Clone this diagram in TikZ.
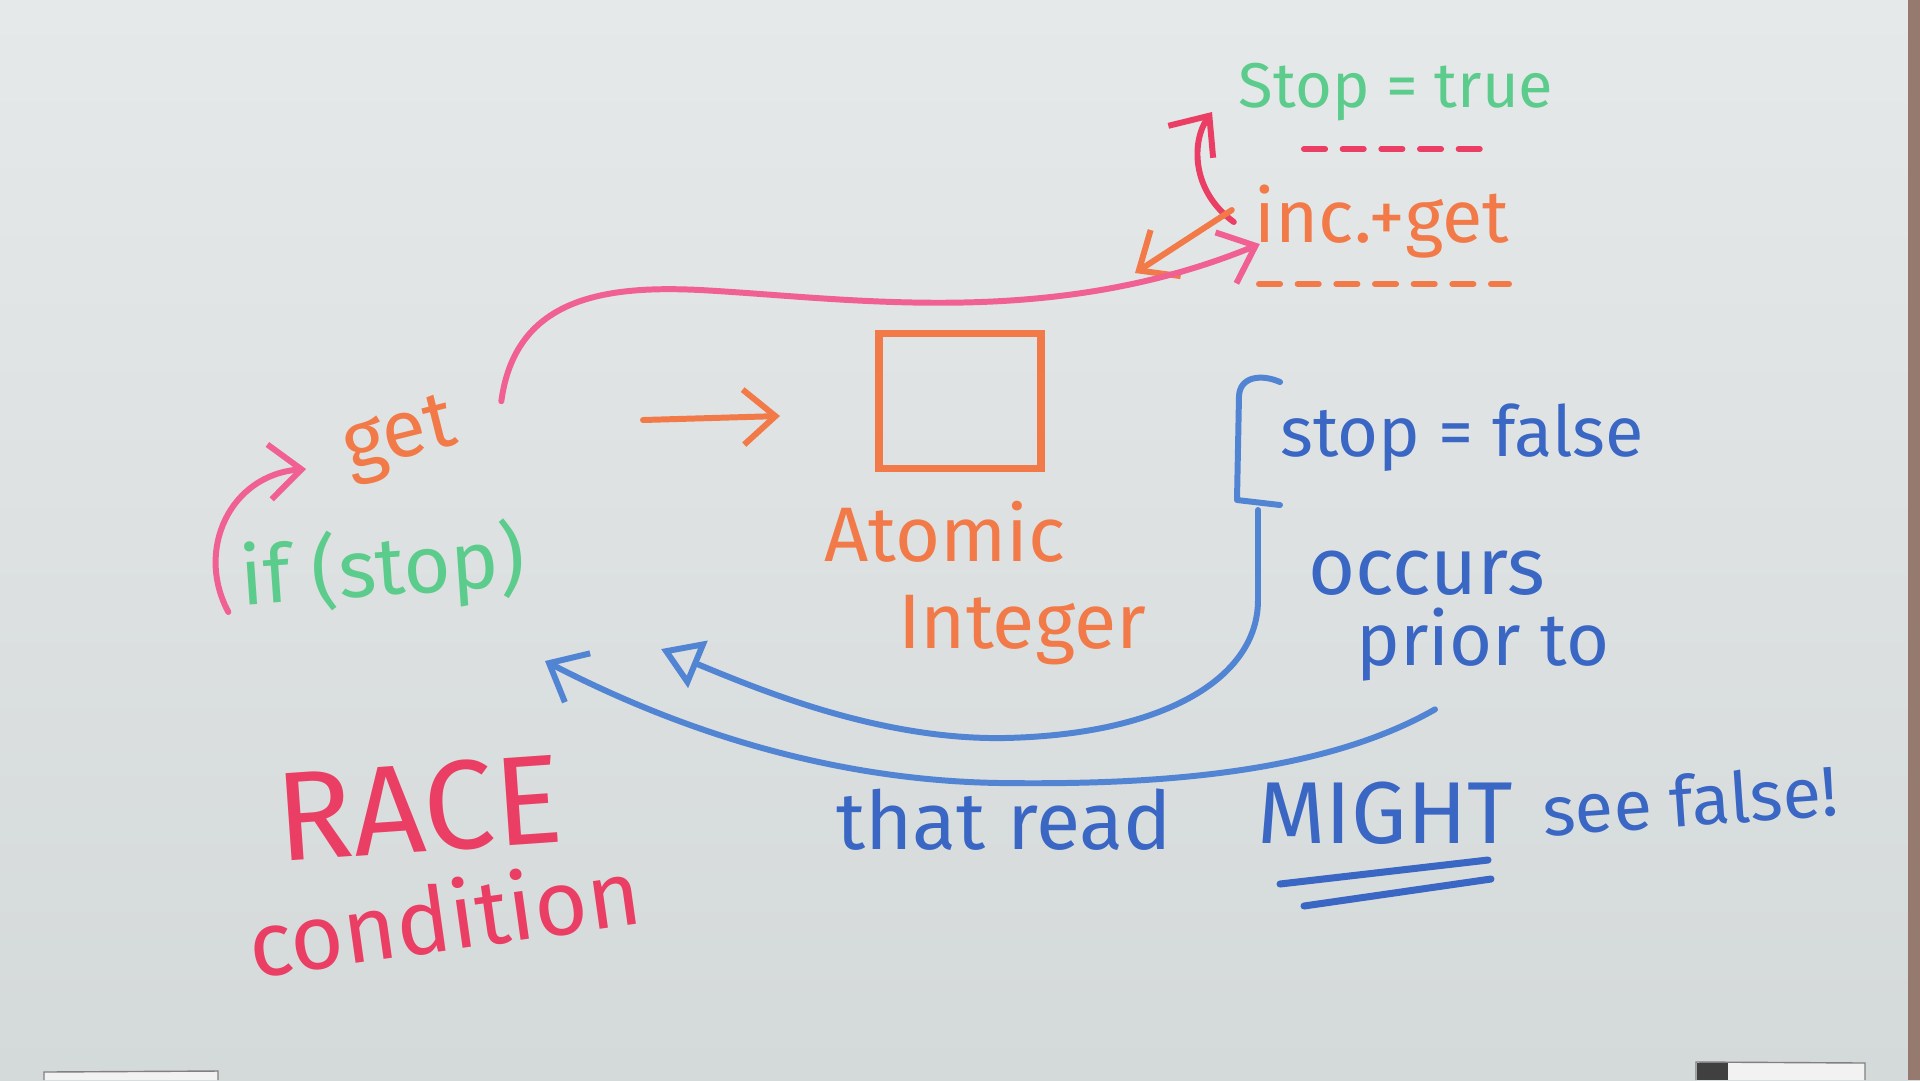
\documentclass[tikz,border=0pt]{standalone}
\usepackage{fontspec}
\setmainfont{Fira Sans}
\usetikzlibrary{arrows.meta,positioning}
\definecolor{board}{RGB}{230,233,233}
\definecolor{boardlow}{RGB}{212,217,217}
\definecolor{frame}{RGB}{150,122,112}
\definecolor{mkgreen}{RGB}{92,204,140}
\definecolor{mkorange}{RGB}{242,122,72}
\definecolor{mkpink}{RGB}{240,96,146}
\definecolor{mkred}{RGB}{234,62,100}
\definecolor{mkblue}{RGB}{58,102,196}
\definecolor{mkltblue}{RGB}{82,132,212}

\begin{document}
\begin{tikzpicture}[x=0.1mm,y=-0.1mm,>={Straight Barb[length=3.2mm,width=5.5mm]},
		mk/.style={line width=1.7pt,line cap=round,line join=round},
		txt/.style={inner sep=0pt,font=\fontsize{#1}{#1}\selectfont},
		dashmk/.style={mk,dash pattern=on 6pt off 5pt}]

			\useasboundingbox (0,0) rectangle (1920,1080);
			\shade[top color=board,bottom color=boardlow] (0,0) rectangle (1920,1080);
			\fill[frame] (1908,0) rectangle (1920,1080);
			\draw[gray,fill=white!90!gray] (44,1080) -- (44,1072) -- (218,1071) -- (218,1080);
			\draw[gray,fill=white!90!gray] (1696,1080) -- (1696,1062) -- (1865,1063) -- (1865,1080);
			\fill[black!75] (1697,1063) rectangle (1728,1080);

			\node[txt=18,mkgreen] (stoptrue) at (1396,92) {Stop = true};
			\node[txt=21,mkorange] (inc) at (1382,222) {inc.+get};
			\draw[dashmk,mkred] (1304,149) -- (1494,149);
			\draw[dashmk,mkorange] (1259,284) -- (1509,284);
			\draw[mk,mkred,->] ([shift={(-20,0)}]inc.west) .. controls (1190,190) and (1192,140) .. ([shift={(-26,20)}]stoptrue.west);
			\coordinate (incout) at (1135,273);
			\draw[mk,mkorange,->] ([shift={(-22,-12)}]inc.west) -- (incout);

			\node[txt=23,mkorange,rotate=14] (get) at (400,440) {get};
			\node[txt=23,mkgreen,rotate=4] (ifstop) at (383,570) {if (stop)};
			\draw[mk,mkpink,->] ([shift={(-12,32)}]ifstop.west) .. controls (195,550) and (230,475) .. ([shift={(-38,15)}]get.west);
			\draw[mk,mkpink,->] ([shift={(54,10)}]get.north east) .. controls (515,300) and (600,285) .. (700,290)
				.. controls (850,298) and (1050,330) .. ([shift={(6,22)}]inc.west);

			\node[draw=mkorange,line width=2pt,minimum width=16.2mm,minimum height=13.5mm] (square) at (960,401) {};
			\coordinate (midA) at (643,420);
			\coordinate (midB) at (780,416);
			\draw[mk,mkorange,->] (midA) -- (midB);
			\node[txt=22,mkorange] (atomic) at (945,532) {Atomic};
			\node[txt=22,mkorange] (integer) at (1022,630) {Integer};

			\node[txt=20,mkblue] (stopfalse) at (1462,438) {stop = false};
			\node[txt=23,mkblue] (occurs) at (1427,573) {occurs};
			\node[txt=21,mkblue] (prior) at (1483,645) {prior to};
			\draw[mk,mkltblue] (1280,382) .. controls (1262,374) and (1240,376) .. (1239,396) -- (1237,500) -- (1280,505);
			\draw[mk,mkltblue,-{Triangle[open,length=4mm,width=5mm]}] (1258,510) -- (1258,600) .. controls (1258,680) and (1160,735) .. (1004,738)
				.. controls (880,740) and (760,690) .. (661,649);
			\draw[mk,mkltblue,->] ([shift={(-48,27)}]prior.south) .. controls (1320,775) and (1150,785) .. (1000,783)
				.. controls (800,780) and (640,710) .. (545,661);

			\node[txt=23,mkblue] (thatread) at (1004,820) {that read};
			\node[txt=25,mkblue] (might) at (1385,813) {MIGHT};
			\node[txt=20,mkblue,rotate=4] (seefalse) at (1690,800) {see false!};
			\draw[mk,mkblue,line width=2pt] (1280,884) -- (1488,860);
			\draw[mk,mkblue,line width=2pt] (1304,906) -- (1491,879);

			\node[txt=36,mkred,rotate=4] (race) at (419,808) {RACE};
			\node[txt=26,mkred,rotate=8] (condition) at (444,916) {condition};
		\end{tikzpicture}
\end{document}
